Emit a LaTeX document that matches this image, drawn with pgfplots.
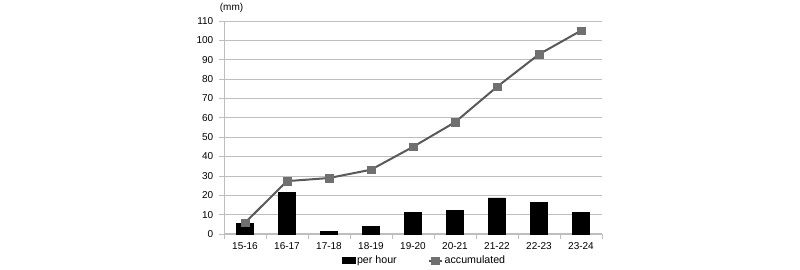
\documentclass[border=0pt]{standalone}
\usepackage{fontspec}
\setmainfont{Liberation Sans}
\usepackage{pgfplots}
\pgfplotsset{compat=1.18}
\definecolor{linegray}{RGB}{89,89,89}
\definecolor{markgray}{RGB}{112,112,112}
\definecolor{gridgray}{RGB}{190,190,190}
\pgfplotsset{
  mybarleg/.style={legend image code/.code={\fill[black] (0pt,-2pt) rectangle (9.75pt,2.5pt);}},
  mylineleg/.style={legend image code/.code={\draw[mark repeat=2,mark phase=2,##1] plot coordinates {(0pt,0pt)(5pt,0pt)(10pt,0pt)};}}
}
\begin{document}
\begin{tikzpicture}
\useasboundingbox (0pt,0pt) rectangle (600pt,202.5pt);
\begin{axis}[
  at={(168pt,27pt)}, anchor=south west,
  scale only axis, width=283.5pt, height=159.75pt,
  xmin=-0.5, xmax=8.5, ymin=0, ymax=110,
  xtick={0,...,8},
  xticklabels={15-16,16-17,17-18,18-19,19-20,20-21,21-22,22-23,23-24},
  minor xtick={-0.5,0.5,...,8.5},
  ytick={0,10,...,110},
  axis x line*=bottom, axis y line*=left,
  axis line style={gridgray, line width=0.75pt, -},
  ymajorgrids, major grid style={gridgray, line width=0.6pt},
  tick align=outside, major tick length=3.5pt, minor tick length=3.5pt,
  major x tick style={draw=none},
  minor x tick style={gridgray, line width=0.6pt},
  major y tick style={gridgray, line width=0.6pt},
  tick label style={font=\fontsize{7.5}{9}\selectfont, text=black},
  /pgf/number format/assume math mode=true,
  xticklabel style={yshift=1pt},
  yticklabel style={xshift=-1pt},
  legend style={at={(0.53,-0.095)}, anchor=north, draw=none, fill=none,
    font=\fontsize{8}{9}\selectfont, legend columns=2,
    nodes={inner sep=1.2pt},
    /tikz/every even column/.append style={column sep=22pt},
    inner sep=0pt},
  legend cell align=left,
  clip=false,
]
\addplot[ybar, bar width=12.75pt, fill=black, draw=black, mybarleg] coordinates {
(0,5.3) (1,21.5) (2,1.2) (3,3.8) (4,11.3) (5,12) (6,18.6) (7,16.3) (8,11.3)};
\addlegendentry{per hour}
\addplot[linegray, line width=1.5pt, mark=square*, mark size=2.8pt,
  mark options={fill=markgray, draw=markgray, line width=0.3pt}, mylineleg] coordinates {
(0,5.8) (1,27.3) (2,28.9) (3,33.2) (4,45) (5,57.7) (6,76) (7,92.8) (8,105)};
\addlegendentry{accumulated}
\node[font=\fontsize{7.5}{9}\selectfont, anchor=south] at (rel axis cs:0.02,1) [yshift=3pt] {(mm)};
\end{axis}
\end{tikzpicture}
\end{document}
